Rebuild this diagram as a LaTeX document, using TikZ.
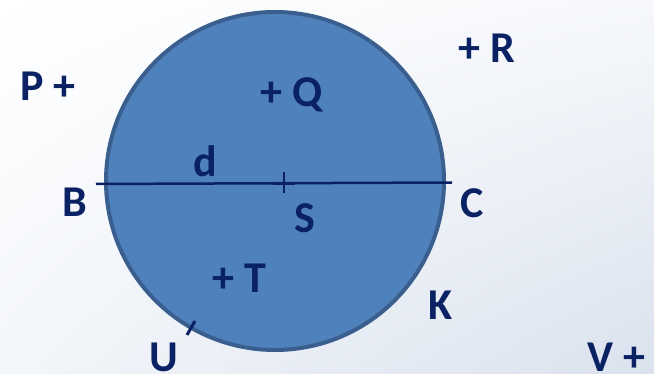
\documentclass[tikz,border=0pt]{standalone}
\usepackage{fontspec}
\usetikzlibrary{shadings}
\setmainfont{Carlito}
\definecolor{navy}{HTML}{0A2263}
\definecolor{fillblue}{HTML}{4F81BD}
\definecolor{edgeblue}{HTML}{3A5F8F}
\definecolor{bgUR}{RGB}{246,248,251}
\definecolor{bgLL}{RGB}{243,246,250}
\definecolor{bgLR}{RGB}{218,226,238}
\begin{document}
\begin{tikzpicture}[x=1pt,y=-1pt,
  lbl/.style={font=\fontsize{44}{50}\selectfont\bfseries, text=navy, inner sep=0pt, anchor=base},
  mark line/.style={draw=navy, line width=2.5pt}]
\shade[upper left=white, upper right=bgUR, lower left=bgLL, lower right=bgLR]
  (0,0) rectangle (654,374);
\useasboundingbox (0,0) rectangle (654,374);
% circle
\node (circ) [circle, draw=edgeblue, fill=fillblue, line width=4pt, minimum size=338pt, inner sep=0pt] at (275,181) {};
% diameter
\coordinate (Bend) at (96,184);
\coordinate (Cend) at (452,182.5);
\draw[mark line] (Bend) -- (Cend);
% centre cross
\coordinate (S0) at (284,183.3);
\draw[mark line] ([shift={(0,-11)}]S0) -- ([shift={(0,10)}]S0);
\draw[mark line, line width=3.5pt] ([shift={(-11,0)}]S0) -- ([shift={(11,0)}]S0);
% tick at U
\coordinate (U1) at (195,321);
\coordinate (U2) at (187,335);
\draw[mark line, line width=3pt] (U1) -- (U2);
% labels
\node[lbl] (P) at (48,101) {P +};
\node[lbl] (Q) at (292,107) {+ Q};
\node[lbl] (R) at (487,63) {+ R};
\node[lbl] (d) at (205,177) {d};
\node[lbl] (B) at (75,217) {B};
\node[lbl] (C) at (472,218) {C};
\node[lbl] (S) at (305,233) {S};
\node[lbl] (T) at (239,293) {+ T};
\node[lbl] (K) at (441,320) {K};
\node[lbl] (U) at (164,372) {U};
\node[lbl] (V) at (616,371) {V +};
\end{tikzpicture}
\end{document}
